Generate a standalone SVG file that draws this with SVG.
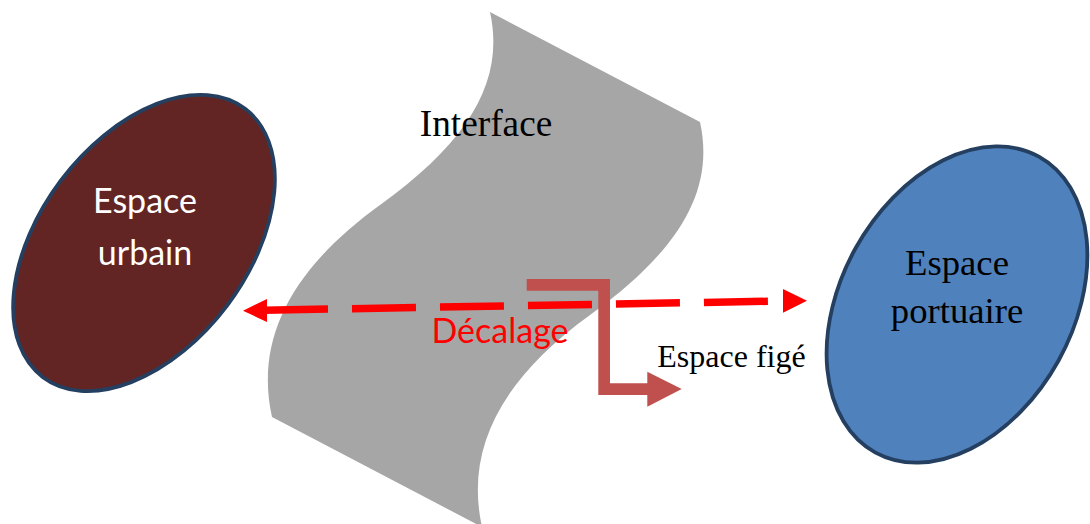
<svg xmlns="http://www.w3.org/2000/svg" width="1090" height="524" viewBox="0 0 1090 524">
<style>
.serif{font-family:"Liberation Serif","Times New Roman",serif;fill:#000}
.sans{font-family:Lato,"Open Sans",sans-serif}
.ell{stroke:#243F60;stroke-width:3.8}
</style>
<rect width="1090" height="524" fill="#fff"/>
<g id="interface">
<path d="M490,12 L700,122 C715,190 680,250 590,315 C500,380 465,450 482,527 L272,417 C255,340 290,270 380,205 C470,140 505,80 490,12 Z" fill="#A6A6A6"/>
<text class="serif" x="486" y="136" font-size="37.3" text-anchor="middle">Interface</text>
</g>
<g id="espace-urbain">
<ellipse class="ell" cx="144" cy="243" rx="168" ry="104" transform="rotate(-53 144 243)" fill="#632523"/>
<text class="sans" x="145" y="213" font-size="34" fill="#fff" text-anchor="middle">Espace</text>
<text class="sans" x="145" y="265" font-size="34" fill="#fff" text-anchor="middle">urbain</text>
</g>
<g id="espace-portuaire">
<ellipse class="ell" cx="957" cy="304.5" rx="169" ry="116" transform="rotate(-61 957 304.5)" fill="#4F81BD"/>
<text class="serif" x="957" y="275" font-size="36.7" text-anchor="middle">Espace</text>
<text class="serif" x="957" y="323" font-size="36.7" text-anchor="middle">portuaire</text>
</g>
<g id="connectors">
<line x1="264" y1="310.2" x2="768" y2="301.3" stroke="#FF0000" stroke-width="7.5" stroke-dasharray="64 24"/>
<polygon points="243,310.7 267,299 267,322" fill="#FF0000"/>
<polygon points="807,300.7 783,289 783,312.7" fill="#FF0000"/>
<polygon points="526.7,279 610,279 610,383.3 647.3,383.3 647.3,371.7 681.7,389 647.3,406.7 647.3,395 598.3,395 598.3,290.7 526.7,290.7" fill="#C0504D"/>
</g>
<g id="decalage">
<text class="sans" x="500" y="343" font-size="34" fill="#FF0000" text-anchor="middle">Décalage</text>
</g>
<g id="espace-fige">
<text class="serif" x="731.5" y="367" font-size="32" text-anchor="middle">Espace figé</text>
</g>
</svg>
